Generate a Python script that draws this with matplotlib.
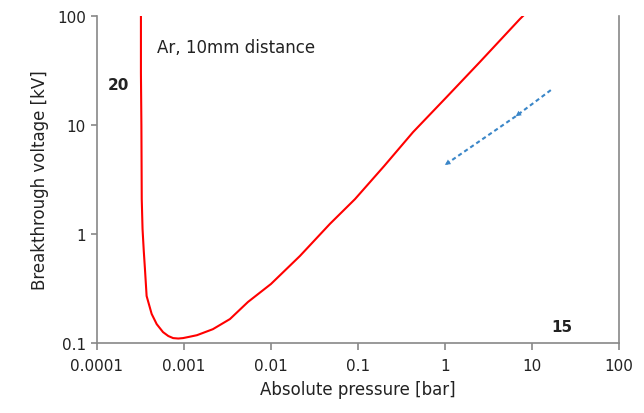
import matplotlib.pyplot as plt

# Paschen curve, Ar, 10 mm gap
pressure_bar = [3.20e-4, 3.20e-4, 3.24e-4, 3.27e-4, 3.34e-4, 3.45e-4, 3.56e-4, 3.72e-4,
                4.25e-4, 4.86e-4, 5.74e-4, 6.60e-4, 7.50e-4, 8.60e-4, 9.75e-4, 1.15e-3,
                1.41e-3, 2.15e-3, 3.38e-3, 5.44e-3, 1.00e-2, 2.15e-2, 4.77e-2, 9.25e-2,
                0.20, 0.43, 1.05, 2.52, 7.3, 7.9]
voltage_kv = [100, 30, 10, 2.09, 1.11, 0.70, 0.477, 0.27,
              0.185, 0.149, 0.126, 0.116, 0.111, 0.110, 0.111, 0.114,
              0.118, 0.134, 0.166, 0.238, 0.348, 0.628, 1.24, 2.09,
              4.2, 8.6, 18.1, 37.8, 94, 100]

# arrow (start -> middle -> end)
arrow_p = [16.5, 6.5, 1.0]
arrow_v = [20.9, 12.0, 4.3]

xticks = [0.0001, 0.001, 0.01, 0.1, 1, 10, 100]
xtick_labels = ["0.0001", "0.001", "0.01", "0.1", "1", "10", "100"]
yticks = [0.1, 1, 10, 100]
ytick_labels = ["0.1", "1", "10", "100"]

fig = plt.figure(figsize=(6.44, 4.14), dpi=100)
ax = fig.add_axes([0.1506, 0.169, 0.8104, 0.790])

ax.plot(pressure_bar, voltage_kv, color="#ff0000", lw=1.5)

blue = "#3a86c8"
ax.plot(arrow_p, arrow_v, color=blue, lw=1.5, ls=(0, (2, 1.5)))
for i in range(2):
    ax.annotate("", xy=(arrow_p[i + 1], arrow_v[i + 1]), xytext=(arrow_p[i], arrow_v[i]),
                arrowprops=dict(arrowstyle="-|>", color=blue, lw=0, mutation_scale=10,
                                shrinkA=0, shrinkB=0))

ax.set_xscale("log")
ax.set_yscale("log")
ax.set_xlim(0.0001, 100)
ax.set_ylim(0.1, 100)
ax.set_xticks(xticks)
ax.set_xticklabels(xtick_labels)
ax.set_yticks(yticks)
ax.set_yticklabels(ytick_labels)
ax.minorticks_off()

for side in ["left", "bottom", "right"]:
    ax.spines[side].set_color("#888888")
    ax.spines[side].set_linewidth(1.2)
ax.spines["top"].set_visible(False)
ax.tick_params(axis="both", color="#888888", width=1.2, labelsize=11, labelcolor="#222222")
ax.tick_params(axis="x", length=5, pad=6)
ax.tick_params(axis="y", length=4, pad=4)

ax.set_xlabel("Absolute pressure [bar]", fontsize=12, color="#222222", labelpad=5)
ax.set_ylabel("Breakthrough voltage [kV]", fontsize=12, color="#222222", labelpad=6)

ax.text(0.115, 0.905, "Ar, 10mm distance", transform=ax.transAxes, fontsize=12,
        color="#222222", va="center")
ax.text(0.0211, 0.79, "20", transform=ax.transAxes, fontsize=11, fontweight="bold",
        color="#222222", va="center")
ax.text(0.87, 0.05, "15", transform=ax.transAxes, fontsize=11, fontweight="bold",
        color="#222222", va="center")

fig.savefig("out.png", dpi=100)
